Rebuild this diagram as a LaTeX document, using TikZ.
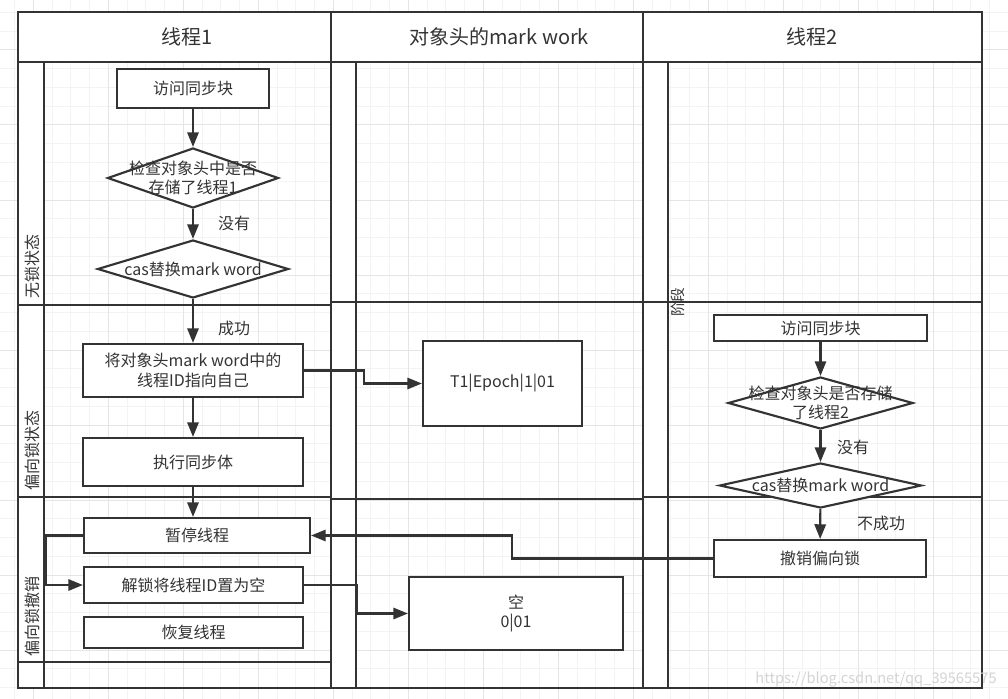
\documentclass[tikz,border=0pt]{standalone}
\usepackage{fontspec}
\newfontfamily\cjk{Noto Sans CJK SC}
\usetikzlibrary{arrows.meta,shapes.geometric}
\definecolor{linegray}{RGB}{51,51,51}
\definecolor{textgray}{RGB}{51,51,51}
\definecolor{gridminor}{RGB}{243,243,243}
\definecolor{gridmajor}{RGB}{229,229,229}
\definecolor{markgray}{RGB}{212,212,212}
\def\pxu{0.75pt}

\tikzset{
  laneline/.style={draw=linegray, line width=1.6pt},
  stepbox/.style={rectangle, draw=linegray, line width=1.6pt, fill=white, inner sep=0pt,
    align=center, text=textgray, font=\cjk\fontsize{12}{14.5}\selectfont},
  decision/.style={diamond, draw=linegray, line width=1.6pt, fill=white, inner sep=0pt},
  steptext/.style={align=center, text=textgray, inner sep=0pt, font=\cjk\fontsize{12}{14.5}\selectfont},
  flow/.style={draw=linegray, line width=1.6pt, -{Triangle[length=11pt,width=8.5pt]}},
  headtext/.style={text=textgray, font=\cjk\fontsize{15}{18}\selectfont},
  lanetext/.style={rotate=90, text=textgray, inner sep=0pt, font=\cjk\fontsize{12}{14}\selectfont},
}

\begin{document}
\begin{tikzpicture}[x=0.75pt, y=-0.75pt, line join=miter]

  \useasboundingbox (0,0) rectangle (1008,699);
  \fill[white] (0,0) rectangle (1008,699);

  % background grid
  \foreach \i in {0,...,53}
    \draw[gridminor, line width=0.75pt] ({14.5+18.75*\i},0) -- ++(0,699);
  \foreach \j in {0,...,37}
    \draw[gridminor, line width=0.75pt] (0,{12.5+18.75*\j}) -- ++(1008,0);
  \foreach \i in {0,...,13}
    \draw[gridmajor, line width=0.75pt] ({33+75*\i},0) -- ++(0,699);
  \foreach \j in {0,...,8}
    \draw[gridmajor, line width=0.75pt] (0,{50+75*\j}) -- ++(1008,0);

  % pools and lanes
  \fill[white] (18,12) rectangle (982,62);
  \foreach \sx/\ex in {18/44, 331/356, 643/668}
    \fill[white] (\sx,62) rectangle (\ex,688);

  \draw[laneline] (18,12) rectangle (982,688);
  \draw[laneline] (18,62) -- (982,62);
  \draw[laneline] (331,12) -- (331,688);
  \draw[laneline] (643,12) -- (643,688);
  \draw[laneline] (44,62) -- (44,688);
  \draw[laneline] (356,62) -- (356,688);
  \draw[laneline] (668,62) -- (668,688);

  \draw[laneline] (18,305) -- (331,305);
  \draw[laneline] (18,497) -- (331,497);
  \draw[laneline] (18,662) -- (331,662);
  \draw[laneline] (331,302) -- (643,302);
  \draw[laneline] (331,499) -- (643,499);
  \draw[laneline] (643,302) -- (982,302);
  \draw[laneline] (643,497) -- (982,497);

  % headers and lane names
  \node[headtext] (head1) at (187,37) {线程1};
  \node[headtext] (head2) at (499,37) {对象头的mark work};
  \node[headtext] (head3) at (812,37) {线程2};

  \node[lanetext] (lane1) at (32,266) {无锁状态};
  \node[lanetext] (lane2) at (32,450) {偏向锁状态};
  \node[lanetext] (lane3) at (32,616) {偏向锁撤销};
  \node[lanetext, font=\cjk\fontsize{11}{13}\selectfont] (lane4) at (678,302) {阶段};

  % thread 1
  \node[stepbox, minimum width=152*\pxu, minimum height=39*\pxu] (acc1) at (193,88.5) {访问同步块};
  \node[decision, minimum width=171*\pxu, minimum height=60*\pxu] (chk1) at (193,178) {};
  \node[steptext] (chk1t) at (chk1) {检查对象头中是否\\存储了线程1};
  \node[decision, minimum width=191*\pxu, minimum height=58*\pxu] (cas1) at (193,269) {};
  \node[steptext] (cas1t) at (cas1) {cas替换mark word};
  \node[stepbox, minimum width=220*\pxu, minimum height=53*\pxu] (setid) at (193,370.5) {将对象头mark word中的\\线程ID指向自己};
  \node[stepbox, minimum width=220*\pxu, minimum height=48*\pxu] (exec) at (193,462) {执行同步体};
  \node[stepbox, minimum width=226*\pxu, minimum height=35*\pxu] (pause) at (197,535.5) {暂停线程};
  \node[stepbox, minimum width=219*\pxu, minimum height=36*\pxu] (unlock) at (193.5,585) {解锁将线程ID置为空};
  \node[stepbox, minimum width=219*\pxu, minimum height=31*\pxu] (resume) at (193.5,632.5) {恢复线程};

  \node[steptext] (none1) at (234,223) {没有};
  \node[steptext] (ok1) at (234,328) {成功};

  % mark word
  \node[stepbox, minimum width=159*\pxu, minimum height=85*\pxu] (mw1) at (502.5,383.5) {T1|Epoch|1|01};
  \node[stepbox, minimum width=214*\pxu, minimum height=73*\pxu] (mw2) at (516,613.5) {空\\0|01};

  % thread 2
  \node[stepbox, minimum width=213*\pxu, minimum height=26*\pxu] (acc2) at (820.5,328) {访问同步块};
  \node[decision, minimum width=185*\pxu, minimum height=52*\pxu] (chk2) at (820.5,403) {};
  \node[steptext] (chk2t) at (chk2) {检查对象头是否存储\\了线程2};
  \node[decision, minimum width=202*\pxu, minimum height=45*\pxu] (cas2) at (820.5,485.5) {};
  \node[steptext] (cas2t) at (cas2) {cas替换mark word};
  \node[stepbox, minimum width=212*\pxu, minimum height=37*\pxu] (revoke) at (820,558.5) {撤销偏向锁};

  \node[steptext] (none2) at (853,447) {没有};
  \node[steptext] (fail2) at (881,523) {不成功};

  % connectors
  \draw[flow] (acc1) -- (chk1);
  \draw[flow] (chk1) -- (cas1);
  \draw[flow] (cas1) -- (setid);
  \draw[flow] (setid) -- (exec);
  \draw[flow] (exec.south) -- (exec.south |- pause.north);
  \draw[flow] (pause.west) -- ++(-37,0) |- (unlock.west);
  \draw[flow] (setid.east) -- ++(60,0) |- (mw1.west);
  \draw[flow] (unlock.east) -- ++(53,0) |- (mw2.west);
  \draw[flow] (revoke.west) -- ++(-201,0) |- (pause.east);
  \draw[flow] (acc2) -- (chk2);
  \draw[flow] (chk2) -- (cas2);
  \draw[flow] (cas2) -- (revoke);

  \node[text=markgray, font=\cjk\fontsize{11}{13}\selectfont] (mark) at (876,679) {https://blog.csdn.net/qq\_39565575};

\end{tikzpicture}
\end{document}
